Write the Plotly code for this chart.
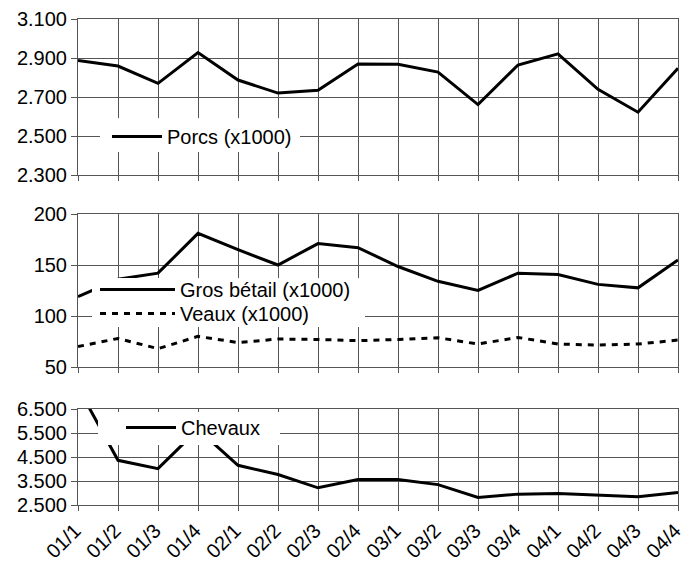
import plotly.graph_objects as go

quarters = ["01/1", "01/2", "01/3", "01/4", "02/1", "02/2", "02/3", "02/4",
            "03/1", "03/2", "03/3", "03/4", "04/1", "04/2", "04/3", "04/4"]

porcs = [2887, 2859, 2770, 2928, 2787, 2720, 2735, 2869,
         2868, 2828, 2661, 2864, 2921, 2739, 2622, 2847]

gros_betail = [119, 136, 142, 181, 165, 150, 171, 167,
               148.5, 134, 125, 142, 140.7, 131, 127.6, 155]

veaux = [70, 78, 68, 80, 74, 77.4, 77, 75.8,
         77, 78.7, 72.5, 79, 72.5, 71.5, 72.5, 76.4]

chevaux = [7400, 4361, 4016, 5650, 4154, 3768, 3216, 3560,
           3560, 3350, 2815, 2953, 2981, 2912, 2843, 3022]

porcs_ticks = [2300, 2500, 2700, 2900, 3100]
porcs_ticktext = ["2.300", "2.500", "2.700", "2.900", "3.100"]
betail_ticks = [50, 100, 150, 200]
betail_ticktext = ["50", "100", "150", "200"]
chevaux_ticks = [2500, 3500, 4500, 5500, 6500]
chevaux_ticktext = ["2.500", "3.500", "4.500", "5.500", "6.500"]

FONT = "Liberation Sans, Arial, sans-serif"
GRID = "#555555"
LINE = "#000000"

fig = go.Figure()
fig.add_trace(go.Scatter(x=quarters, y=porcs, mode="lines", name="Porcs (x1000)",
                         line=dict(color=LINE, width=3), xaxis="x", yaxis="y",
                         legend="legend"))
fig.add_trace(go.Scatter(x=quarters, y=gros_betail, mode="lines", name="Gros bétail (x1000)",
                         line=dict(color=LINE, width=3), xaxis="x2", yaxis="y2",
                         legend="legend2"))
fig.add_trace(go.Scatter(x=quarters, y=veaux, mode="lines", name="Veaux (x1000)",
                         line=dict(color=LINE, width=3, dash="6px,6px"), xaxis="x2", yaxis="y2",
                         legend="legend4"))
fig.add_trace(go.Scatter(x=quarters, y=chevaux, mode="lines", name="Chevaux",
                         line=dict(color=LINE, width=3), xaxis="x3", yaxis="y3",
                         legend="legend3"))

xcommon = dict(type="category", range=[0, 15], showgrid=True, gridcolor=GRID, gridwidth=1,
               ticks="outside", ticklen=5, tickcolor=GRID, showline=True, linecolor=GRID,
               mirror=True, zeroline=False, fixedrange=True, automargin=False)
ycommon = dict(showgrid=True, gridcolor=GRID, gridwidth=1, ticks="outside", ticklen=6,
               tickcolor=GRID, zeroline=False, showline=True, linecolor=GRID, mirror=True,
               automargin=False, tickfont=dict(size=20, color="black", family=FONT))

H = 486.0
TOP = 19
BOT = 505
def dom(top_px, bot_px):
    return [1 - (bot_px - TOP) / H, 1 - (top_px - TOP) / H]

def px_x(px):
    return (px - 78) / 600.0

def px_y(py):
    return (BOT - py) / H

legfont = dict(size=20, family=FONT, color="black")
CLEAR = "rgba(0,0,0,0)"

# white boxes behind the legends (hide gridlines & lines like the original)
boxes = [(100, 118, 300, 152), (92, 278, 365, 327), (98, 412, 280, 445)]
shapes = [dict(type="rect", xref="paper", yref="paper",
               x0=px_x(a), x1=px_x(c), y0=px_y(d), y1=px_y(b),
               fillcolor="white", line=dict(width=0), layer="above")
          for (a, b, c, d) in boxes]

fig.update_layout(
    width=685, height=569,
    margin=dict(l=78, r=7, t=TOP, b=569 - BOT, autoexpand=False),
    paper_bgcolor="white", plot_bgcolor="white",
    font=dict(family=FONT, size=20, color="black"),
    xaxis=dict(**xcommon, anchor="y", showticklabels=False),
    xaxis2=dict(**xcommon, anchor="y2", matches="x", showticklabels=False),
    xaxis3=dict(**xcommon, anchor="y3", matches="x", tickangle=-45, ticklabelshift=-3,
                tickfont=dict(size=20, color="black", family=FONT)),
    yaxis=dict(**ycommon, domain=dom(19, 175), range=[2300, 3100],
               tickvals=porcs_ticks, ticktext=porcs_ticktext, anchor="x"),
    yaxis2=dict(**ycommon, domain=dom(214, 367), range=[50, 200],
                tickvals=betail_ticks, ticktext=betail_ticktext, anchor="x2"),
    yaxis3=dict(**ycommon, domain=dom(409, 505), range=[2500, 6500],
                tickvals=chevaux_ticks, ticktext=chevaux_ticktext, anchor="x3"),
    shapes=shapes,
    showlegend=True,
    legend=dict(x=px_x(107), y=px_y(117), xanchor="left", yanchor="top",
                bgcolor=CLEAR, borderwidth=0, itemwidth=50, font=legfont),
    legend2=dict(x=px_x(95), y=px_y(270), xanchor="left", yanchor="top",
                 bgcolor=CLEAR, borderwidth=0, itemwidth=75, font=legfont),
    legend4=dict(x=px_x(95), y=px_y(294), xanchor="left", yanchor="top",
                 bgcolor=CLEAR, borderwidth=0, itemwidth=75, font=legfont),
    legend3=dict(x=px_x(121), y=px_y(408), xanchor="left", yanchor="top",
                 bgcolor=CLEAR, borderwidth=0, itemwidth=50, font=legfont),
)

fig.write_html("out.html", config={"displayModeBar": False},
               post_script="document.body.style.margin='0';document.body.style.padding='0';")
